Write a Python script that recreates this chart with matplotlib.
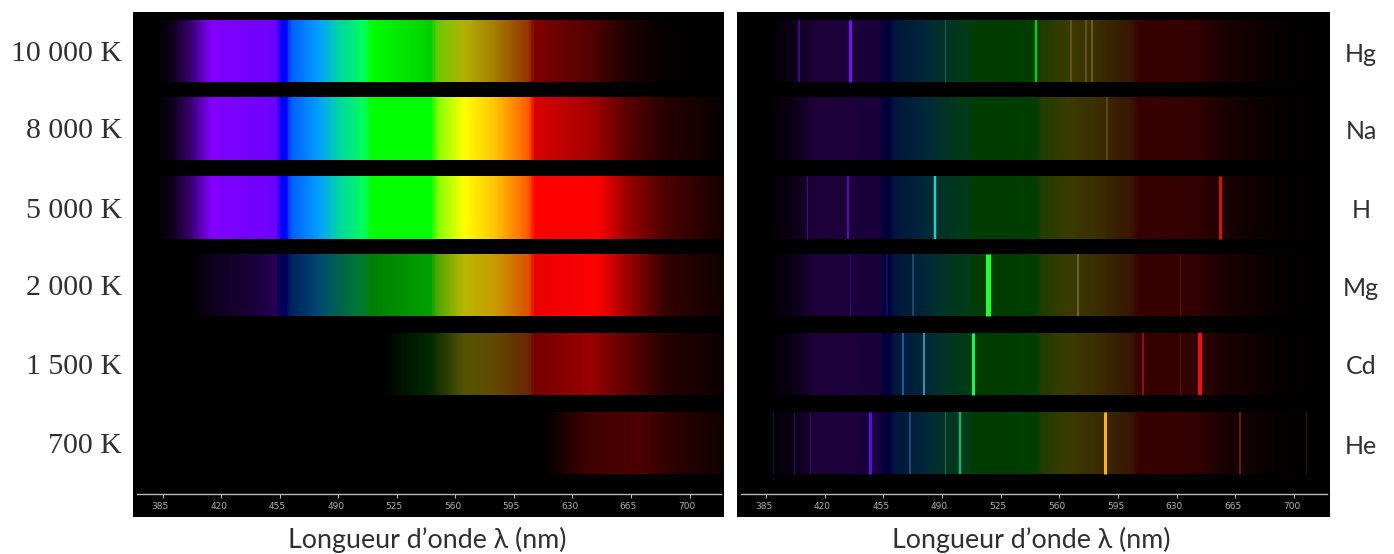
import numpy as np
import matplotlib
matplotlib.use("Agg")
import matplotlib.pyplot as plt
from matplotlib.colors import LinearSegmentedColormap
from matplotlib.transforms import ScaledTranslation

W, H = 1394, 554

tick_values = [385, 420, 455, 490, 525, 560, 595, 630, 665, 700]

# colour of the spectrum along the wavelength axis
color_nm = [370, 414, 452, 455.5, 459, 460.5, 478, 489, 505, 510, 545.5, 549, 565, 583, 604, 607.5, 780]
color_rgb = [
    (130, 0, 255), (130, 0, 255), (110, 0, 255), (0, 0, 255), (0, 0, 255),
    (0, 90, 255), (0, 160, 255), (0, 210, 170), (0, 255, 90), (0, 255, 0),
    (0, 255, 0), (130, 255, 0), (255, 255, 0), (255, 200, 0), (255, 90, 0),
    (255, 0, 0), (255, 0, 0),
]

# blackbody rows: brightness read along each band
temperatures = ["10 000 K", "8 000 K", "5 000 K", "2 000 K", "1 500 K", "700 K"]
bb_nm = [
    [382, 391, 402, 414, 510, 545, 565, 604, 608, 640, 660, 680, 700],
    [382, 391, 402, 414, 604, 608, 641, 663, 686, 721],
    [382, 391, 402, 414, 608, 645, 663, 686, 721],
    [402, 415, 440, 456, 478, 510, 545, 565, 600, 608, 645, 663, 686, 721],
    [517, 537, 545, 565, 604, 608, 641, 663, 686, 721],
    [612, 625, 640, 670, 690, 721],
]
bb_level = [
    [0, 0.12, 0.45, 1, 1, 0.82, 0.7, 0.58, 0.5, 0.33, 0.14, 0.04, 0],
    [0, 0.12, 0.45, 1, 1, 0.85, 0.65, 0.35, 0.15, 0.03],
    [0, 0.12, 0.45, 1, 1, 1, 0.6, 0.3, 0.08],
    [0, 0.12, 0.22, 0.35, 0.45, 0.5, 0.63, 0.72, 0.85, 0.92, 1, 0.62, 0.2, 0.06],
    [0, 0.13, 0.16, 0.33, 0.42, 0.47, 0.6, 0.38, 0.15, 0.05],
    [0, 0.12, 0.25, 0.3, 0.18, 0.06],
]

# emission rows: faint continuum with lines (nm, colour, brightness, width in px)
elements = ["Hg", "Na", "H", "Mg", "Cd", "He"]
em_nm = [385, 400, 415, 545, 608, 641, 660, 690, 715]
em_level = [0, 0.08, 0.23, 0.24, 0.22, 0.2, 0.1, 0.03, 0]
line_nm = [
    [404.5, 435.4, 491.6, 546, 567, 576, 579.5],
    [588.7],
    [409.3, 434, 486, 656],
    [435, 457, 472.7, 517.5, 571, 632],
    [467, 479.5, 508.5, 610, 632, 644],
    [389, 401.7, 411, 447, 471, 492, 501, 587.5, 668, 707],
]
line_color = [
    ["#5a00b0", "#7a10f0", "#1a5a50", "#10c810", "#705e10", "#705e10", "#806a10"],
    ["#6a4e10"],
    ["#3a1070", "#5a10a8", "#30c8c0", "#d81010"],
    ["#301060", "#101070", "#1a5a70", "#20ff30", "#7a7a20", "#501010"],
    ["#1a5aa0", "#2a98a8", "#20f060", "#901010", "#501010", "#f01010"],
    ["#181040", "#281050", "#281050", "#5a10e0", "#1a6090", "#1a6a48", "#20b068", "#ffb020", "#902010", "#301008"],
]
line_width = [
    [1.5, 3, 1.2, 2.5, 1.5, 1.5, 1.5],
    [1.5],
    [1.2, 2, 2.5, 3],
    [1.2, 1.5, 1.5, 5, 1.5, 1.2],
    [2, 2, 3, 2, 1.2, 4],
    [1, 1.2, 1, 3, 1.5, 1.2, 2.5, 3, 1.5, 1],
]

row_top = [20, 97, 176, 254, 333, 412]
row_bottom = [82, 160, 239, 316, 395, 474]

grid = np.arange(367, 776, 0.25)
spectrum = LinearSegmentedColormap.from_list(
    "spectrum",
    [((n - 370) / 410, tuple(c / 255 for c in rgb)) for n, rgb in zip(color_nm, color_rgb)],
)
base = spectrum((np.clip(grid, 370, 780) - 370) / 410)[:, :3]


def make_panel(left, right, tick_385, tick_700):
    ax = fig.add_axes([left / W, 1 - 517 / H, (right - left) / W, (517 - 12) / H])
    px_per_nm = (tick_700 - tick_385) / (700 - 385)
    ax.set_xlim(385 + (left - tick_385) / px_per_nm, 385 + (right - tick_385) / px_per_nm)
    ax.set_ylim(517, 12)
    ax.set_facecolor("black")
    for side in ["top", "left", "right"]:
        ax.spines[side].set_visible(False)
    ax.spines["bottom"].set_position(("data", 494))
    ax.spines["bottom"].set_color("#b8b8b8")
    ax.spines["bottom"].set_linewidth(1)
    ax.spines["bottom"].set_bounds(385 + (left + 4 - tick_385) / px_per_nm, 385 + (right - 3 - tick_385) / px_per_nm)
    ax.set_yticks([])
    ax.set_xticks(tick_values)
    ax.set_xticklabels([str(t) for t in tick_values])
    ax.tick_params(axis="x", direction="out", length=3, width=0.8, color="#b8b8b8",
                   labelcolor="#b0b0b0", labelsize=6.5, pad=3)
    shift = ScaledTranslation(-2.5 / 100, 0, fig.dpi_scale_trans)
    for label in ax.get_xticklabels():
        label.set_transform(label.get_transform() + shift)
    return ax


def draw_band(ax, nm, level, top, bottom):
    rgb = base * np.interp(grid, nm, level, left=0, right=level[-1])[:, None]
    xlim = ax.get_xlim()
    ax.imshow(rgb[None, :, :], extent=[grid[0], grid[-1], bottom, top], aspect="auto",
              interpolation="bilinear", zorder=1)
    ax.set_xlim(xlim)
    ax.set_ylim(517, 12)


fig = plt.figure(figsize=(W / 100, H / 100), dpi=100, facecolor="white")
ax_left = make_panel(133, 724, 162.7, 689.5)
ax_right = make_panel(737, 1330, 766, 1294)

for i in range(6):
    draw_band(ax_left, bb_nm[i], bb_level[i], row_top[i], row_bottom[i])
    draw_band(ax_right, em_nm, em_level, row_top[i], row_bottom[i])
    for n, c, w in zip(line_nm[i], line_color[i], line_width[i]):
        ax_right.vlines(n, row_top[i], row_bottom[i], color=c, linewidth=w * 0.72, zorder=2)
    y = 1 - ((row_top[i] + row_bottom[i]) / 2 + 3) / H
    fig.text(122 / W, y, temperatures[i], ha="right", va="center",
             fontfamily="Liberation Serif", fontsize=21.5, color="#303030")
    fig.text(1361 / W, y, elements[i], ha="center", va="center",
             fontfamily="Lato", fontsize=18, color="#303030")

for cx in [427, 1031]:
    fig.text(cx / W, 1 - 540 / H, "Longueur d\u2019onde \u03bb (nm)", ha="center", va="center",
             fontfamily=["Lato", "Noto Sans"], fontsize=19.3, color="#303030")

fig.savefig("out.png", dpi=100)
